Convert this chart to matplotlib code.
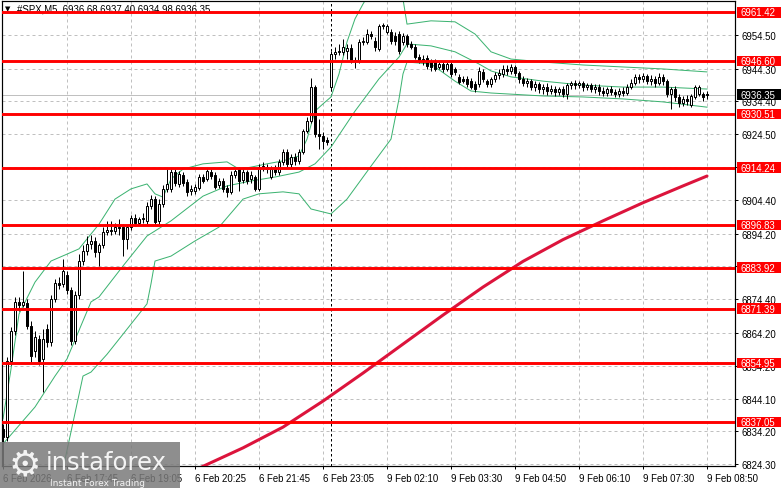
import matplotlib
matplotlib.use("Agg")
import matplotlib.pyplot as plt
from matplotlib.patches import Rectangle

plt.rcParams['font.family'] = ['Liberation Sans', 'DejaVu Sans']

# ---------------- data (5-minute candles, #SPX M5) ----------------
opens = [
    6834.9, 6832.5, 6855.6, 6864.7, 6873.5, 6872.6, 6873.2, 6866.2, 6858.6, 6862.2,
    6856.2, 6865.3, 6861.3, 6874.4, 6879.2, 6878.9, 6881.7, 6877.1, 6861.6, 6875.6,
    6885.9, 6889.0, 6891.1, 6892.0, 6888.6, 6890.8, 6894.7, 6895.3, 6895.0, 6896.2,
    6896.2, 6892.6, 6896.2, 6899.0, 6897.5, 6898.7, 6898.1, 6902.6, 6904.7, 6898.1,
    6903.2, 6907.8, 6907.8, 6912.9, 6909.3, 6912.0, 6909.9, 6907.2, 6907.2, 6908.1,
    6911.4, 6910.8, 6912.9, 6912.0, 6909.0, 6910.2, 6908.1, 6906.9, 6912.0, 6913.8,
    6910.5, 6912.9, 6910.8, 6911.4, 6907.8, 6914.4, 6913.8, 6911.4, 6913.8, 6912.9,
    6916.0, 6919.0, 6915.4, 6917.5, 6916.3, 6919.0, 6925.4, 6928.4, 6938.7, 6924.5,
    6923.9, 6922.6, 6938.7, 6948.7, 6949.4, 6949.4, 6949.7, 6950.6, 6946.6, 6946.6,
    6952.4, 6952.4, 6954.8, 6952.7, 6950.3, 6957.2, 6955.4, 6955.4, 6954.2, 6954.8,
    6952.4, 6954.2, 6951.8, 6950.9, 6947.8, 6947.2, 6947.5, 6946.6, 6946.6, 6944.8,
    6945.7, 6944.2, 6945.7, 6944.2, 6941.8, 6941.2, 6941.2, 6940.5, 6939.6, 6939.6,
    6943.3, 6940.5, 6939.6, 6941.2, 6942.4, 6942.7, 6944.2, 6943.6, 6944.8, 6943.0,
    6941.2, 6939.9, 6940.5, 6938.7, 6939.6, 6938.1, 6938.7, 6937.5, 6938.1, 6937.2,
    6938.1, 6936.6, 6939.3, 6939.9, 6939.3, 6939.9, 6938.7, 6939.3, 6938.1, 6938.7,
    6937.5, 6936.9, 6938.1, 6937.2, 6936.6, 6937.5, 6936.9, 6938.7, 6939.9, 6941.8,
    6941.2, 6942.1, 6940.5, 6941.2, 6939.9, 6941.8, 6940.5, 6936.6, 6938.1, 6935.7,
    6933.9, 6935.1, 6933.3, 6935.7, 6936.6, 6936.6, 6936.68,
]
highs = [
    6836.4, 6856.8, 6865.9, 6875.0, 6875.0, 6882.9, 6874.4, 6867.7, 6864.7, 6863.5,
    6865.3, 6866.8, 6875.6, 6880.5, 6881.1, 6886.5, 6882.9, 6878.0, 6876.8, 6888.0,
    6890.8, 6893.5, 6893.8, 6893.2, 6891.4, 6896.2, 6898.1, 6898.1, 6897.5, 6898.7,
    6897.1, 6896.8, 6899.9, 6900.2, 6899.3, 6900.5, 6903.8, 6906.0, 6905.7, 6904.7,
    6909.0, 6913.8, 6913.8, 6913.8, 6913.2, 6912.9, 6910.8, 6909.0, 6909.3, 6912.3,
    6912.3, 6914.1, 6913.8, 6912.9, 6911.1, 6911.1, 6909.0, 6913.2, 6913.8, 6914.4,
    6913.8, 6913.5, 6913.2, 6912.0, 6915.4, 6916.0, 6915.4, 6914.7, 6915.0, 6916.9,
    6919.9, 6919.9, 6918.4, 6918.7, 6919.9, 6926.0, 6929.6, 6941.5, 6939.3, 6929.0,
    6925.1, 6923.6, 6949.7, 6950.9, 6951.8, 6953.3, 6951.8, 6951.8, 6947.8, 6953.3,
    6953.9, 6956.3, 6955.7, 6953.9, 6957.8, 6958.1, 6957.8, 6956.3, 6955.4, 6955.7,
    6955.1, 6954.8, 6952.7, 6951.8, 6948.7, 6948.4, 6948.4, 6947.2, 6947.2, 6946.3,
    6946.6, 6946.3, 6946.3, 6944.8, 6942.7, 6942.1, 6942.1, 6941.5, 6940.5, 6944.8,
    6944.2, 6941.2, 6941.8, 6943.3, 6944.2, 6945.4, 6945.4, 6945.7, 6945.4, 6943.6,
    6942.1, 6941.5, 6941.2, 6940.5, 6940.2, 6939.6, 6939.9, 6939.3, 6939.0, 6938.7,
    6939.0, 6939.9, 6940.5, 6940.8, 6940.5, 6940.5, 6939.9, 6939.9, 6939.6, 6939.6,
    6938.7, 6938.7, 6939.0, 6938.1, 6938.4, 6938.7, 6939.6, 6941.2, 6942.7, 6942.7,
    6943.0, 6942.7, 6942.4, 6942.1, 6943.0, 6942.7, 6941.2, 6938.7, 6939.0, 6936.6,
    6936.0, 6936.3, 6936.6, 6939.3, 6939.3, 6937.2, 6937.40,
]
lows = [
    6823.7, 6831.3, 6854.4, 6863.5, 6870.7, 6872.0, 6865.3, 6855.3, 6856.8, 6854.4,
    6846.2, 6859.8, 6860.1, 6873.5, 6877.4, 6878.0, 6875.9, 6860.4, 6860.7, 6874.4,
    6884.7, 6887.7, 6889.6, 6887.1, 6884.4, 6889.9, 6893.8, 6893.8, 6894.1, 6893.8,
    6887.4, 6889.6, 6895.3, 6896.5, 6896.8, 6897.5, 6897.1, 6901.7, 6896.8, 6897.1,
    6902.3, 6906.9, 6906.9, 6908.7, 6908.4, 6908.7, 6905.7, 6906.0, 6906.3, 6907.5,
    6909.6, 6910.2, 6910.8, 6907.8, 6908.1, 6906.9, 6905.3, 6906.3, 6911.1, 6907.2,
    6909.6, 6909.3, 6909.6, 6907.2, 6907.2, 6913.2, 6912.6, 6910.8, 6912.0, 6912.0,
    6915.0, 6914.4, 6914.4, 6915.0, 6915.4, 6918.4, 6924.8, 6927.8, 6923.6, 6919.9,
    6919.9, 6921.1, 6937.5, 6947.2, 6948.4, 6948.4, 6947.2, 6946.0, 6944.5, 6946.0,
    6951.5, 6951.8, 6953.3, 6949.7, 6949.7, 6956.3, 6954.8, 6951.8, 6951.5, 6948.7,
    6951.5, 6950.9, 6950.3, 6947.2, 6946.0, 6945.4, 6944.2, 6943.6, 6943.6, 6944.2,
    6943.3, 6943.6, 6941.8, 6942.4, 6939.6, 6939.9, 6938.7, 6938.1, 6937.2, 6938.7,
    6940.2, 6938.7, 6938.7, 6940.2, 6941.2, 6941.8, 6942.4, 6942.7, 6942.1, 6939.9,
    6939.0, 6938.7, 6937.8, 6937.5, 6936.9, 6936.6, 6936.3, 6936.6, 6936.0, 6936.3,
    6935.7, 6935.1, 6938.1, 6938.1, 6938.4, 6937.5, 6937.8, 6937.2, 6936.9, 6936.3,
    6936.0, 6936.0, 6936.3, 6935.7, 6935.7, 6936.0, 6936.3, 6938.1, 6939.3, 6939.9,
    6940.2, 6939.6, 6939.3, 6938.7, 6939.3, 6939.3, 6935.7, 6932.0, 6934.5, 6932.6,
    6932.9, 6933.3, 6932.6, 6935.1, 6936.0, 6934.5, 6934.98,
]
closes = [
    6832.5, 6855.6, 6864.7, 6873.5, 6872.6, 6873.5, 6866.2, 6857.1, 6862.9, 6855.6,
    6862.2, 6861.3, 6874.4, 6879.2, 6878.6, 6882.9, 6877.1, 6861.6, 6875.6, 6885.9,
    6889.0, 6891.1, 6892.0, 6888.6, 6890.8, 6894.7, 6895.3, 6895.0, 6896.2, 6895.9,
    6892.6, 6896.2, 6899.0, 6897.5, 6898.7, 6899.0, 6902.6, 6904.7, 6897.8, 6903.2,
    6907.8, 6909.3, 6912.9, 6909.6, 6912.3, 6909.6, 6906.9, 6907.8, 6908.4, 6911.4,
    6910.2, 6913.2, 6911.7, 6908.4, 6910.2, 6907.8, 6906.9, 6912.0, 6913.2, 6910.2,
    6912.9, 6910.2, 6912.0, 6907.8, 6914.4, 6914.7, 6914.4, 6913.8, 6912.9, 6916.0,
    6919.0, 6915.4, 6917.5, 6916.3, 6919.0, 6925.4, 6928.4, 6938.7, 6924.5, 6923.9,
    6922.3, 6922.0, 6948.7, 6949.4, 6949.7, 6950.9, 6950.6, 6946.6, 6946.9, 6952.4,
    6952.7, 6954.8, 6954.2, 6950.9, 6957.2, 6957.5, 6957.2, 6952.7, 6952.7, 6949.7,
    6954.2, 6951.8, 6950.9, 6947.8, 6946.6, 6946.6, 6945.1, 6944.8, 6944.2, 6945.7,
    6944.2, 6945.7, 6942.7, 6943.3, 6940.2, 6940.5, 6939.6, 6938.7, 6938.1, 6943.6,
    6941.2, 6939.6, 6941.2, 6942.4, 6943.0, 6944.2, 6943.6, 6944.8, 6943.0, 6941.2,
    6939.9, 6940.5, 6938.7, 6939.6, 6938.1, 6938.7, 6937.5, 6938.1, 6937.2, 6938.1,
    6936.6, 6939.3, 6939.9, 6939.3, 6939.9, 6938.7, 6939.3, 6938.1, 6938.7, 6937.5,
    6936.9, 6938.1, 6937.2, 6936.6, 6937.5, 6936.9, 6938.7, 6939.9, 6941.8, 6941.2,
    6942.1, 6940.5, 6941.2, 6939.9, 6941.8, 6940.5, 6936.6, 6938.1, 6935.7, 6933.9,
    6935.1, 6934.5, 6936.0, 6938.7, 6938.7, 6935.7, 6936.35,
]

# Bollinger bands (sampled) and moving average
upper_bars = [0, 2, 4, 8, 12, 16, 19, 24, 28, 32, 36, 38, 40, 42, 45, 50, 56, 59, 62, 66,
              70, 74, 76, 78, 80, 82, 84, 86, 88, 90, 92, 95, 98, 100, 101, 107, 113, 118, 122, 127,
              135, 145, 155, 165, 176]
upper_vals = [6838.0, 6853.1, 6869.8, 6879.5, 6885.9, 6888.0, 6889.6, 6897.1, 6904.7, 6907.8,
              6909.3, 6906.3, 6905.3, 6910.8, 6913.8, 6915.4, 6916.0, 6913.8, 6914.4, 6915.4,
              6916.3, 6917.8, 6922.9, 6931.4, 6933.6, 6935.7, 6942.7, 6952.4, 6959.4, 6963.9,
              6967.9, 6970.0, 6967.9, 6965.4, 6957.8, 6958.8, 6958.5, 6954.8, 6949.4, 6947.2,
              6946.3, 6945.4, 6944.8, 6944.2, 6943.3]
middle_bars = [0, 8, 13, 16, 22, 24, 30, 36, 42, 50, 56, 62, 68, 74, 78, 82, 88, 94, 99, 101,
               107, 113, 119, 122, 127, 135, 145, 155, 165, 176]
middle_vals = [6830.4, 6841.6, 6851.0, 6856.2, 6873.5, 6875.0, 6884.4, 6893.5, 6898.1, 6905.6,
               6908.7, 6910.2, 6911.4, 6912.9, 6915.4, 6920.5, 6931.4, 6941.2, 6947.8, 6951.8,
               6951.2, 6949.4, 6945.7, 6943.6, 6941.8, 6940.5, 6939.3, 6938.7, 6938.7, 6938.1]
lower_bars = [8, 12, 15, 20, 22, 26, 30, 36, 37, 38, 42, 48, 54, 60, 64, 70, 74, 77, 82, 86,
              92, 97, 99, 100, 101, 107, 113, 117, 122, 135, 145, 155, 165, 176]
lower_vals = [6810.0, 6819.7, 6822.8, 6851.0, 6852.2, 6857.6, 6863.7, 6872.9, 6879.0, 6885.9,
              6887.4, 6892.0, 6896.2, 6904.7, 6906.3, 6906.9, 6906.3, 6901.7, 6900.2, 6904.7,
              6914.7, 6922.9, 6935.1, 6942.7, 6946.3, 6945.7, 6940.5, 6937.5, 6936.9, 6936.0,
              6935.7, 6935.1, 6934.2, 6932.6]
ma_bars = [45, 50, 60, 70, 80, 90, 100, 110, 120, 130, 140, 150, 160, 170, 176]
ma_vals = [6820.7, 6823.6, 6829.2, 6835.5, 6843.4, 6851.9, 6860.7, 6869.5, 6878.0, 6885.8,
           6892.4, 6898.1, 6903.6, 6908.7, 6911.7]

levels = [6961.42, 6946.60, 6930.51, 6914.24, 6896.83, 6883.92, 6871.39, 6854.95, 6837.05]
last_price = 6936.35
separator_bar = 82

y_ticks = [6954.50, 6944.30, 6934.40, 6924.50, 6914.50, 6904.40, 6894.20, 6884.30,
           6874.40, 6864.20, 6854.20, 6844.10, 6834.20, 6824.30]
x_tick_bars = [0, 16, 32, 48, 64, 80, 96, 112, 128, 144, 160, 176]
x_tick_labels = ["6 Feb 2026", "6 Feb 17:45", "6 Feb 19:05", "6 Feb 20:25", "6 Feb 21:45",
                 "6 Feb 23:05", "9 Feb 02:10", "9 Feb 03:30", "9 Feb 04:50", "9 Feb 06:10",
                 "9 Feb 07:30", "9 Feb 08:50"]
title_text = "#SPX,M5  6936.68 6937.40 6934.98 6936.35"

# ---------------- figure ----------------
W, H = 781, 489
fig = plt.figure(figsize=(W / 100, H / 100), dpi=100)
fig.patch.set_facecolor("white")
ax = fig.add_axes([2 / W, 22 / H, 733 / W, 465 / H])
ax.set_facecolor("white")
ax.set_xlim(-0.25, 183)
ax.set_ylim(6823.7, 6964.82)

FS = 6.9
px = 0.72  # one pixel in points

# grid
for yt in y_ticks:
    ax.axhline(yt, color="#c0c0c0", lw=px, ls=(0, (3, 3)), zorder=0.5)
for xb in x_tick_bars[1:]:
    ax.axvline(xb, color="#c0c0c0", lw=px, ls=(0, (3, 3)), zorder=0.5)

# bid line
ax.axhline(last_price, color="#c0c0c0", lw=px, zorder=0.8)

# period separator
ax.axvline(separator_bar, color="black", lw=px, ls=(0, (2.5, 2.5)), zorder=0.9)

# Bollinger bands
green = "#3cb371"
ax.plot(upper_bars, upper_vals, color=green, lw=px, zorder=2)
ax.plot(middle_bars, middle_vals, color=green, lw=px, zorder=2)
ax.plot(lower_bars, lower_vals, color=green, lw=px, zorder=2)

# moving average
ax.plot(ma_bars, ma_vals, color="#dc143c", lw=2.2, zorder=3,
        solid_capstyle="round", solid_joinstyle="round")

# candles
for i, (o, h, l, c) in enumerate(zip(opens, highs, lows, closes)):
    hi = max(h, o, c)
    lo = min(l, o, c)
    ax.vlines(i, lo, hi, color="black", lw=px, zorder=4)
    bottom = min(o, c)
    height = abs(c - o)
    face = "white" if c >= o else "black"
    ax.add_patch(Rectangle((i - 0.33, bottom), 0.66, max(height, 0.05),
                           facecolor=face, edgecolor="black", lw=px, zorder=4.5))

# horizontal levels
for lv in levels:
    ax.axhline(lv, color="#ff0000", lw=2.1, zorder=6)

# title text
ax.text(3 / 733, 1 - 7 / 465, "\u25bc", transform=ax.transAxes, fontsize=5,
        va="center", ha="left", color="black", zorder=5,
        family=["DejaVu Sans"])
ax.text(15 / 733, 1 - 7 / 465, title_text, transform=ax.transAxes, fontsize=FS,
        va="center", ha="left", color="black", zorder=5)

# axes styling
for s in ax.spines.values():
    s.set_color("black")
    s.set_linewidth(px * 1.2)
ax.yaxis.tick_right()
ax.set_yticks(y_ticks, [f"{v:.2f}" for v in y_ticks])
ax.tick_params(axis="y", which="both", left=False, right=True, labelleft=False,
               labelright=True, direction="out", length=2.5, width=px, pad=2.5,
               labelsize=FS, colors="black")
ax.set_xticks(x_tick_bars, x_tick_labels, ha="left")
ax.tick_params(axis="x", which="both", direction="out", length=2.5, width=px, pad=2.5,
               labelsize=FS, colors="black")

# right-side level labels
ytr = ax.get_yaxis_transform()
x_box = (737 - 2) / 733
x_txt = (741 - 2) / 733
for lv in levels:
    ax.add_patch(Rectangle((x_box, lv - 1.65), 0.08, 3.3, transform=ytr,
                           facecolor="#ff0000", edgecolor="none", clip_on=False, zorder=10))
    ax.text(x_txt, lv, f"{lv:.2f}", transform=ytr, fontsize=FS, color="white",
            va="center", ha="left", clip_on=False, zorder=11)
ax.add_patch(Rectangle((x_box, last_price - 1.65), 0.08, 3.3, transform=ytr,
                       facecolor="black", edgecolor="none", clip_on=False, zorder=10))
ax.text(x_txt, last_price, f"{last_price:.2f}", transform=ytr, fontsize=FS, color="white",
        va="center", ha="left", clip_on=False, zorder=11)

# watermark
fig.add_artist(Rectangle((0, 0), 180 / W, 46 / H, transform=fig.transFigure,
                         facecolor="#7a7a7a", edgecolor="none", alpha=0.85, zorder=5))
fig.text(25 / W, 1 - 465 / H, "\u2699", fontsize=26, color="white", alpha=0.9,
         ha="center", va="center", family=["DejaVu Sans"], zorder=6)
fig.text(46 / W, 1 - 470 / H, "instaforex", fontsize=17.5, color="white", alpha=0.9,
         ha="left", va="baseline", family=["DejaVu Sans"], zorder=6)
fig.text(50 / W, 1 - 484 / H, "Instant Forex Trading", fontsize=6.5, color="white",
         alpha=0.9, ha="left", va="center", family=["DejaVu Sans"], zorder=6)

fig.savefig("out.png", dpi=100, facecolor="white")
